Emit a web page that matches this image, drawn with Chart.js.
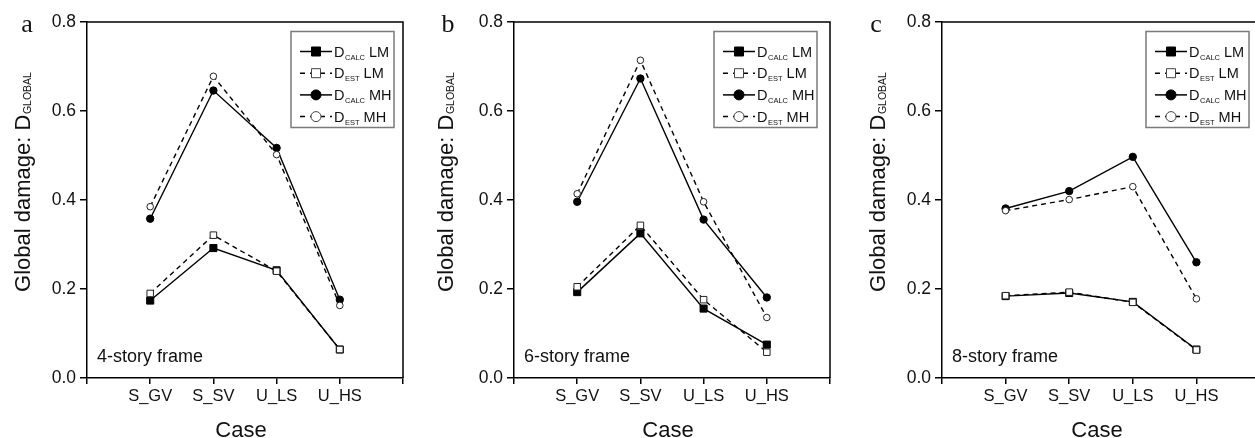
<!DOCTYPE html>
<html>
<head>
<meta charset="utf-8">
<script src="https://cdn.jsdelivr.net/npm/chart.js@4.4.0/dist/chart.umd.min.js"></script>
<style>
    html, body { margin: 0; padding: 0; background: #fff; overflow: hidden; }
    body { width: 1255px; height: 438px; position: relative; }
    canvas { position: absolute; top: 0; }
</style>
</head>
<body>
<canvas id="panel-a" width="420" height="438" style="left:0px"></canvas>
<canvas id="panel-b" width="420" height="438" style="left:420px"></canvas>
<canvas id="panel-c" width="430" height="438" style="left:840px"></canvas>
<script>
// values
const categories = ['S_GV', 'S_SV', 'U_LS', 'U_HS'];
const yTickValues = [0.0, 0.2, 0.4, 0.6, 0.8];
const panelLetters = ['a', 'b', 'c'];
const frameLabels = ['4-story frame', '6-story frame', '8-story frame'];
const legendSubs = ['CALC', 'EST', 'CALC', 'EST'];
const legendSuffix = ['LM', 'LM', 'MH', 'MH'];

const calcLM4 = [0.174, 0.292, 0.242, 0.064];
const estLM4  = [0.190, 0.321, 0.240, 0.064];
const calcMH4 = [0.358, 0.646, 0.517, 0.176];
const estMH4  = [0.385, 0.678, 0.502, 0.163];

const calcLM6 = [0.193, 0.325, 0.156, 0.075];
const estLM6  = [0.205, 0.343, 0.176, 0.058];
const calcMH6 = [0.396, 0.673, 0.356, 0.181];
const estMH6  = [0.414, 0.714, 0.396, 0.136];

const calcLM8 = [0.184, 0.191, 0.171, 0.064];
const estLM8  = [0.185, 0.193, 0.170, 0.063];
const calcMH8 = [0.381, 0.420, 0.497, 0.260];
const estMH8  = [0.376, 0.401, 0.430, 0.178];

const SANS = '"Liberation Sans", Arial, sans-serif';
const SERIF = '"Liberation Serif", "Times New Roman", serif';
const INK = '#111';

function toPoints(values) {
    return values.map((v, i) => ({x: i + 1, y: v}));
}

function lineDataset(values, isEst, style) {
    return {
        data: toPoints(values),
        borderColor: '#000',
        borderWidth: 1.4,
        borderDash: isEst ? [5, 4] : [],
        tension: 0,
        fill: false,
        pointStyle: style,
        pointRadius: style === 'rect' ? (isEst ? 4.6 : 5) : (isEst ? 3.3 : 3.7),
        pointBackgroundColor: isEst ? '#fff' : '#000',
        pointBorderColor: isEst ? '#222' : '#000',
        pointBorderWidth: 1,
        // open markers sit on top of the filled ones
        order: isEst ? 1 : 2
    };
}

// draws text with a small subscript, returns the advance
function drawSubText(ctx, x, y, main, sub, after, size, subSize, subDrop) {
    ctx.font = `${size}px ${SANS}`;
    ctx.fillText(main, x, y);
    let w = ctx.measureText(main).width;
    ctx.font = `${subSize}px ${SANS}`;
    ctx.fillText(sub, x + w + 0.5, y + subDrop);
    w += ctx.measureText(sub).width + 0.5;
    if (after) {
        ctx.font = `${size}px ${SANS}`;
        ctx.fillText(after, x + w, y);
        w += ctx.measureText(after).width;
    }
    return w;
}

function decorPlugin(panel) {
    return {
        id: 'decor',
        beforeDatasetsDraw(chart) {
            const ctx = chart.ctx;
            const a = chart.chartArea;
            ctx.save();
            ctx.strokeStyle = '#000';
            ctx.lineWidth = 1.5;
            ctx.beginPath();
            ctx.moveTo(a.left, a.top);
            ctx.lineTo(a.right, a.top);
            ctx.lineTo(a.right, a.bottom);
            ctx.stroke();
            ctx.restore();
        },
        afterDraw(chart) {
            const ctx = chart.ctx;
            const a = chart.chartArea;
            ctx.save();
            ctx.fillStyle = INK;
            ctx.textBaseline = 'alphabetic';

            // panel letter
            ctx.font = `26px ${SERIF}`;
            ctx.textAlign = 'center';
            ctx.fillText(panel.letter, a.left + panel.letterDx, 32);

            // x title
            ctx.font = `22px ${SANS}`;
            ctx.fillText('Case', (a.left + a.right) / 2 - 4, 437);

            // frame annotation
            ctx.textAlign = 'left';
            ctx.font = `18px ${SANS}`;
            ctx.fillText(panel.frame, a.left + 10, a.bottom - 16);

            // y title, rotated, with subscript
            ctx.save();
            ctx.translate(a.left + panel.titleDx, (a.top + a.bottom) / 2 - 18);
            ctx.rotate(-Math.PI / 2);
            ctx.font = `22px ${SANS}`;
            let total = ctx.measureText('Global damage: D').width;
            ctx.font = `10.5px ${SANS}`;
            total += ctx.measureText('GLOBAL').width + 0.5;
            drawSubText(ctx, -total / 2, 8, 'Global damage: D', 'GLOBAL', '', 22, 10.5, 1);
            ctx.restore();

            // legend box
            const bw = 103, bh = 96;
            const bx = a.right - panel.legendDx - bw;
            const by = a.top + 9.5;
            ctx.fillStyle = '#fff';
            ctx.fillRect(bx, by, bw, bh);
            ctx.strokeStyle = '#7a7a7a';
            ctx.lineWidth = 1.5;
            ctx.strokeRect(bx, by, bw, bh);

            const styles = ['rect', 'rect', 'circle', 'circle'];
            for (let i = 0; i < 4; i++) {
                const ry = by + 20 + i * 21.7;
                const isEst = legendSubs[i] === 'EST';
                const mx = bx + 25;
                ctx.strokeStyle = '#000';
                ctx.lineWidth = 1.5;
                ctx.setLineDash(isEst ? [5, 5] : []);
                ctx.beginPath();
                ctx.moveTo(bx + 9, ry);
                ctx.lineTo(bx + 41, ry);
                ctx.stroke();
                ctx.setLineDash([]);
                ctx.fillStyle = isEst ? '#fff' : '#000';
                ctx.strokeStyle = isEst ? '#444' : '#000';
                ctx.lineWidth = 1;
                ctx.beginPath();
                if (styles[i] === 'rect') {
                    ctx.rect(mx - 4.5, ry - 4.5, 9, 9);
                } else {
                    ctx.arc(mx, ry, 5, 0, Math.PI * 2);
                }
                ctx.fill();
                ctx.stroke();
                ctx.fillStyle = INK;
                drawSubText(ctx, bx + 43, ry + 5, 'D', legendSubs[i], ' ' + legendSuffix[i], 14.5, 7.5, 3);
            }
            ctx.restore();
        }
    };
}

function makePanel(canvasId, panel, series) {
    const ctx = document.getElementById(canvasId).getContext('2d');
    return new Chart(ctx, {
        type: 'line',
        data: {
            datasets: [
                lineDataset(series[0], false, 'rect'),
                lineDataset(series[1], true, 'rect'),
                lineDataset(series[2], false, 'circle'),
                lineDataset(series[3], true, 'circle')
            ]
        },
        options: {
            responsive: false,
            animation: false,
            devicePixelRatio: 1,
            layout: {
                padding: {left: panel.padLeft, right: panel.padRight, top: 22, bottom: 20}
            },
            plugins: {
                legend: {display: false},
                tooltip: {enabled: false}
            },
            scales: {
                x: {
                    type: 'linear',
                    min: 0,
                    max: categories.length + 1,
                    afterFit: (scale) => { scale.height = 40; },
                    afterBuildTicks: (scale) => {
                        scale.ticks = [0, 1, 2, 3, 4, 5].map(v => ({value: v}));
                    },
                    ticks: {
                        autoSkip: false,
                        maxRotation: 0,
                        padding: 3,
                        color: INK,
                        font: {family: SANS, size: 16.5},
                        callback: (v) => categories[v - 1] || ''
                    },
                    grid: {
                        drawOnChartArea: false,
                        drawTicks: true,
                        tickLength: 6,
                        color: '#000',
                        lineWidth: 1.5
                    },
                    border: {display: true, color: '#000', width: 1.5}
                },
                y: {
                    min: 0,
                    max: 0.8,
                    afterFit: (scale) => { scale.width = 40; },
                    afterBuildTicks: (scale) => {
                        scale.ticks = yTickValues.map(v => ({value: v}));
                    },
                    ticks: {
                        padding: 4,
                        color: INK,
                        font: {family: SANS, size: 17.5},
                        callback: (v) => Number(v).toFixed(1)
                    },
                    grid: {
                        drawOnChartArea: false,
                        drawTicks: true,
                        tickLength: 7,
                        color: '#000',
                        lineWidth: 1.5
                    },
                    border: {display: true, color: '#000', width: 1.5}
                }
            }
        },
        plugins: [decorPlugin(panel)]
    });
}

makePanel('panel-a',
    {letter: panelLetters[0], frame: frameLabels[0], padLeft: 47, padRight: 17, letterDx: -60, titleDx: -65, legendDx: 9},
    [calcLM4, estLM4, calcMH4, estMH4]);
makePanel('panel-b',
    {letter: panelLetters[1], frame: frameLabels[1], padLeft: 54, padRight: 10, letterDx: -66, titleDx: -69, legendDx: 13},
    [calcLM6, estLM6, calcMH6, estMH6]);
makePanel('panel-c',
    {letter: panelLetters[2], frame: frameLabels[2], padLeft: 62, padRight: 10, letterDx: -66, titleDx: -65, legendDx: 11},
    [calcLM8, estLM8, calcMH8, estMH8]);
</script>
</body>
</html>
